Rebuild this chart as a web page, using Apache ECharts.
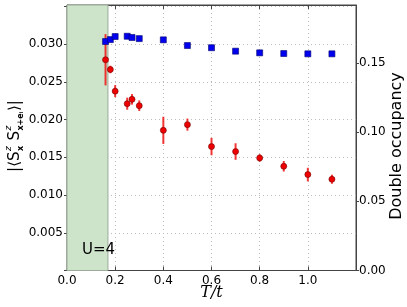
<!DOCTYPE html>
<html><head><meta charset="utf-8">
<script src="https://cdn.jsdelivr.net/npm/echarts@6/dist/echarts.min.js"></script>
<style>html,body{margin:0;padding:0;background:#fff}#c{width:407px;height:307px}</style>
</head><body><div id="c"></div>
<script>
// Temperatures T/t
const temps = [0.16, 0.18, 0.20, 0.25, 0.27, 0.30, 0.40, 0.50, 0.60, 0.70, 0.80, 0.90, 1.00, 1.10];
// |<Sz Sz>| nearest-neighbour spin correlation (left axis)
const spinCorr = [0.02794, 0.02665, 0.02378, 0.02212, 0.02269, 0.02185, 0.01858, 0.01934, 0.01643, 0.01577, 0.01492, 0.01382, 0.01272, 0.01210];
const spinErr  = [0.0034, 0.0005, 0.0008, 0.0008, 0.0007, 0.0007, 0.0018, 0.0008, 0.00115, 0.0011, 0.0005, 0.0007, 0.0009, 0.0006];
// Double occupancy (right axis)
const doubleOcc = [0.1656, 0.1670, 0.1692, 0.1694, 0.1685, 0.1677, 0.1668, 0.1627, 0.1611, 0.1586, 0.1574, 0.1569, 0.1567, 0.1567];
// Shaded region
const shadeRange = [0, 0.17];
const shadeLabel = 'U=4';

const chart = echarts.init(document.getElementById('c'), null, {renderer: 'canvas'});
const FONT = 'DejaVu Sans';
const frame = '#444';

// Build the left axis title |<S^z_x S^z_{x+e_i}>| with stacked super/subscripts
function buildLeftTitle() {
  const ctx = document.createElement('canvas').getContext('2d');
  const measure = (txt, size, style, weight) => {
    ctx.font = `${style || 'normal'} ${weight || 'normal'} ${size}px ${FONT}`;
    return ctx.measureText(txt).width;
  };
  const M = 15, SUP = 9, SUB = 8;
  const parts = [
    {main: '|⟨S'},
    {sup: 'z', sub: 'x'},
    {main: ' S'},
    {sup: 'z', sub: 'x+eᵢ'},
    {main: '⟩|'}
  ];
  const children = [];
  let x = 0;
  parts.forEach(p => {
    if (p.main) {
      children.push({type: 'text', x: x, y: 0, style: {text: p.main, fontSize: M, fontFamily: FONT, fill: '#000', align: 'left', verticalAlign: 'middle'}});
      x += measure(p.main, M);
    } else {
      const w1 = measure(p.sup, SUP, 'italic');
      const w2 = measure(p.sub, SUB, 'normal', 'bold');
      children.push({type: 'text', x: x + 0.5, y: -6, style: {text: p.sup, fontSize: SUP, fontStyle: 'italic', fontFamily: FONT, fill: '#000', align: 'left', verticalAlign: 'middle'}});
      children.push({type: 'text', x: x + 0.5, y: 6, style: {text: p.sub, fontSize: SUB, fontWeight: 'bold', fontFamily: FONT, fill: '#000', align: 'left', verticalAlign: 'middle'}});
      x += Math.max(w1, w2) + 1;
    }
  });
  children.forEach(c => { c.x -= x / 2; });
  return {type: 'group', x: 15, y: 136, rotation: Math.PI / 2, z: 10, children};
}

const option = {
  animation: false,
  textStyle: {fontFamily: FONT},
  grid: {left: 67, right: 51, top: 5, bottom: 36.5, show: true, borderColor: frame, borderWidth: 1, backgroundColor: 'transparent'},
  xAxis: [{
    type: 'value', min: 0, max: 1.2, interval: 0.2,
    axisLine: {show: true, onZero: false, lineStyle: {color: frame}},
    axisTick: {show: true, inside: true, length: 4, lineStyle: {color: frame}},
    axisLabel: {color: '#000', fontSize: 12, margin: 4, fontFamily: FONT, showMaxLabel: false,
      formatter: v => v > 1.1 ? '' : v.toFixed(1)},
    splitLine: {show: true, lineStyle: {color: '#bbb', type: [1, 3], width: 1}}
  }, {
    type: 'value', min: 0, max: 1.2, interval: 0.2, position: 'top',
    axisLine: {show: true, onZero: false, lineStyle: {color: frame}},
    axisTick: {show: true, inside: true, length: 4, lineStyle: {color: frame}},
    axisLabel: {show: false}, splitLine: {show: false}
  }],
  yAxis: [{
    type: 'value', min: 0, max: 0.0352, interval: 0.005,
    axisLine: {show: true, onZero: false, lineStyle: {color: frame}},
    axisTick: {show: true, inside: false, length: 3, lineStyle: {color: frame}},
    axisLabel: {color: '#000', fontSize: 12, margin: 4, fontFamily: FONT, showMaxLabel: false,
      formatter: v => (v === 0 || v > 0.0349) ? '' : v.toFixed(3)},
    splitLine: {show: true, lineStyle: {color: '#bbb', type: [1, 3], width: 1}}
  }, {
    type: 'value', min: 0, max: 0.192, interval: 0.05, position: 'right',
    axisLine: {show: true, onZero: false, lineStyle: {color: frame}},
    axisTick: {show: true, inside: false, length: 3, lineStyle: {color: frame}},
    axisLabel: {color: '#000', fontSize: 12, margin: 3, fontFamily: FONT, showMaxLabel: false,
      formatter: v => v > 0.151 ? '' : v.toFixed(2)},
    splitLine: {show: false}
  }],
  series: [
    {
      type: 'line', xAxisIndex: 0, yAxisIndex: 0, data: [], silent: true, z: 1,
      markArea: {
        silent: true,
        itemStyle: {color: '#cde4cb', borderColor: '#9aaa98', borderWidth: 1},
        data: [[{xAxis: shadeRange[0]}, {xAxis: shadeRange[1]}]]
      }
    },
    {
      type: 'custom', xAxisIndex: 0, yAxisIndex: 0, z: 3, silent: true,
      data: temps.map((t, i) => [t, spinCorr[i] - spinErr[i], spinCorr[i] + spinErr[i]]),
      renderItem: (params, api) => {
        const p1 = api.coord([api.value(0), api.value(1)]);
        const p2 = api.coord([api.value(0), api.value(2)]);
        return {type: 'line', shape: {x1: p1[0], y1: p1[1], x2: p2[0], y2: p2[1]},
          style: {stroke: 'rgba(240,20,20,0.85)', lineWidth: 2}};
      }
    },
    {
      type: 'scatter', xAxisIndex: 0, yAxisIndex: 0, z: 4, symbol: 'circle', symbolSize: 6,
      itemStyle: {color: '#ee0000', borderColor: '#700000', borderWidth: 0.6, opacity: 1},
      data: temps.map((t, i) => [t, spinCorr[i]])
    },
    {
      type: 'scatter', xAxisIndex: 0, yAxisIndex: 1, z: 4, symbol: 'rect', symbolSize: 6,
      itemStyle: {color: '#0000ee', borderColor: '#000070', borderWidth: 0.6, opacity: 1},
      data: temps.map((t, i) => [t, doubleOcc[i]])
    }
  ],
  graphic: [
    {type: 'text', left: 82, top: 243, z: 10,
      style: {text: shadeLabel, fontSize: 15, fontFamily: FONT, fill: '#000'}},
    {type: 'text', x: 211.5, y: 293, z: 10,
      style: {text: 'T/t', fontSize: 16, fontStyle: 'italic', fontFamily: 'DejaVu Serif', fill: '#000', align: 'center', verticalAlign: 'middle'}},
    {type: 'text', x: 397, y: 146, rotation: Math.PI / 2, z: 10,
      style: {text: 'Double occupancy', fontSize: 16, fontFamily: FONT, fill: '#000', align: 'center', verticalAlign: 'middle'}},
    buildLeftTitle()
  ]
};
chart.setOption(option);
</script></body></html>
